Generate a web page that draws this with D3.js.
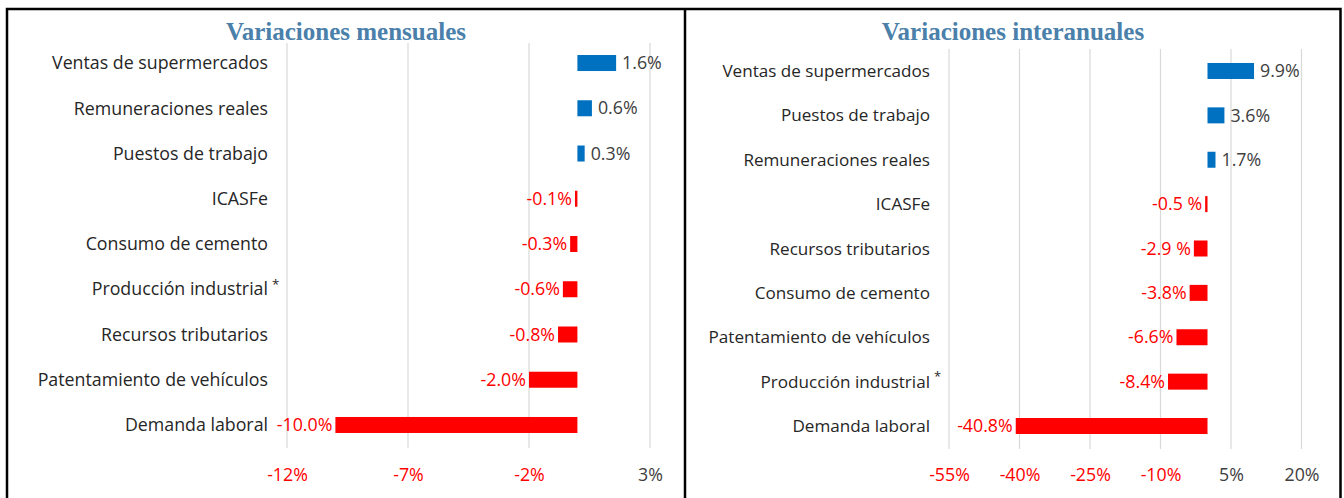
<!DOCTYPE html>
<html><head><meta charset="utf-8">
<script src="https://cdn.jsdelivr.net/npm/d3@7"></script>
<style>
html,body{margin:0;padding:0;background:#fff;}
svg{display:block;}
</style></head>
<body>
<svg id="chart" width="1344" height="498"></svg>
<script>
// ---- Data ----
const monthlyTitle = "Variaciones mensuales";
const monthlyCategories = ["Ventas de supermercados","Remuneraciones reales","Puestos de trabajo ","ICASFe","Consumo de cemento","Producción industrial *","Recursos tributarios","Patentamiento de vehículos","Demanda laboral"];
const monthlyValues = [1.6, 0.6, 0.3, -0.1, -0.3, -0.6, -0.8, -2.0, -10.0];
const monthlyLabels = ["1.6%","0.6%","0.3%","-0.1%","-0.3%","-0.6%","-0.8%","-2.0%","-10.0%"];
const monthlyTicks = [-12, -7, -2, 3];

const annualTitle = "Variaciones interanuales";
const annualCategories = ["Ventas de supermercados","Puestos de trabajo ","Remuneraciones reales","ICASFe","Recursos tributarios","Consumo de cemento","Patentamiento de vehículos","Producción industrial *","Demanda laboral"];
const annualValues = [9.9, 3.6, 1.7, -0.5, -2.9, -3.8, -6.6, -8.4, -40.8];
const annualLabels = ["9.9%","3.6%","1.7%","-0.5 %","-2.9 %","-3.8%","-6.6%","-8.4%","-40.8%"];
const annualTicks = [-55, -40, -25, -10, 5, 20];

// ---- Styles ----
const BLUE = "#0070c0", RED = "#ff0000", GREY = "#404040", GRID = "#d9d9d9";
const TITLE_COLOR = "#4a80aa";
const FONT = "'Open Sans', sans-serif";

const svg = d3.select("#chart");

// panel borders
svg.append("path")
  .attr("d", "M7,498 V9 H685 V498 M685,9 H1340.5 V498")
  .attr("fill", "none").attr("stroke", "#000").attr("stroke-width", 2.5);

function panel(cfg) {
  const g = svg.append("g");
  const x = d3.scaleLinear().domain(cfg.domain).range(cfg.xRange);
  const y = d3.scaleBand().domain(cfg.categories).range(cfg.yRange).paddingInner(0);
  const barH = 16;

  // gridlines
  g.append("g").selectAll("line").data(cfg.ticks).join("line")
    .attr("x1", d => x(d)).attr("x2", d => x(d))
    .attr("y1", cfg.gridTop).attr("y2", cfg.gridBottom)
    .attr("stroke", GRID).attr("stroke-width", 1.2);

  // axis tick labels
  const axis = d3.axisBottom(x).tickValues(cfg.ticks).tickSize(0).tickFormat(d => d + "%");
  const ag = g.append("g").attr("transform", `translate(0,${cfg.tickY})`).call(axis);
  ag.select(".domain").remove();
  ag.selectAll("text")
    .attr("font-family", FONT).attr("font-size", cfg.numFs)
    .attr("fill", d => d < 0 ? RED : GREY).attr("dy", "0.35em").attr("y", 0);

  // bars
  const data = cfg.categories.map((c, i) => ({c, v: cfg.values[i], l: cfg.labels[i]}));
  g.append("g").selectAll("rect").data(data).join("rect")
    .attr("x", d => x(Math.min(0, d.v)))
    .attr("width", d => Math.abs(x(d.v) - x(0)))
    .attr("y", d => y(d.c) + y.bandwidth() / 2 - barH / 2)
    .attr("height", barH)
    .attr("fill", d => d.v < 0 ? RED : BLUE);

  // value labels
  g.append("g").selectAll("text").data(data).join("text")
    .attr("x", d => d.v < 0 ? x(d.v) - 3 : x(d.v) + 6)
    .attr("y", d => y(d.c) + y.bandwidth() / 2)
    .attr("dy", "0.35em")
    .attr("text-anchor", d => d.v < 0 ? "end" : "start")
    .attr("font-family", FONT).attr("font-size", cfg.numFs)
    .attr("fill", d => d.v < 0 ? RED : GREY)
    .text(d => d.l);

  // category labels
  const cl = g.append("g").selectAll("g").data(data).join("g")
    .attr("transform", d => `translate(${cfg.labelX},${y(d.c) + y.bandwidth() / 2})`);
  cl.append("text")
    .attr("text-anchor", "end").attr("dy", "0.35em")
    .attr("font-family", FONT).attr("font-size", cfg.fs)
    .attr("fill", "#262626")
    .text(d => d.c.endsWith(" *") ? d.c.slice(0, -2) : d.c);
  cl.filter(d => d.c.endsWith(" *")).append("text")
    .attr("x", 4).attr("dy", "-0.05em")
    .attr("font-family", FONT).attr("font-size", cfg.fs * 0.75)
    .attr("fill", "#262626").text("*");

  // title
  g.append("text")
    .attr("x", cfg.titleX).attr("y", 40)
    .attr("text-anchor", "middle")
    .attr("font-family", "'Liberation Serif', serif").attr("font-weight", "bold")
    .attr("font-size", 25).attr("fill", TITLE_COLOR)
    .text(cfg.title);
}

panel({
  title: monthlyTitle, titleX: 346,
  categories: monthlyCategories, values: monthlyValues, labels: monthlyLabels,
  ticks: monthlyTicks, domain: [-12, 3], xRange: [287, 650],
  yRange: [40.4, 447.6], gridTop: 43, gridBottom: 448, tickY: 475,
  labelX: 268, fs: 17.8, numFs: 17.8
});

panel({
  title: annualTitle, titleX: 1013,
  categories: annualCategories, values: annualValues, labels: annualLabels,
  ticks: annualTicks, domain: [-55, 20], xRange: [949, 1301.5],
  yRange: [48.8, 448.2], gridTop: 49, gridBottom: 449, tickY: 475,
  labelX: 930, fs: 17.1, numFs: 17.8
});
</script>
</body></html>
